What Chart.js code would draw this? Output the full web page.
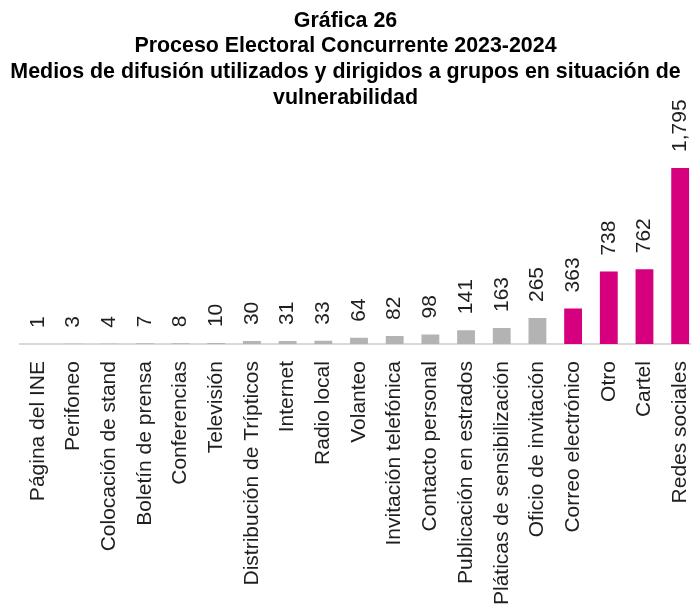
<!DOCTYPE html>
<html>
<head>
<meta charset="utf-8">
<script src="https://cdn.jsdelivr.net/npm/chart.js@4"></script>
<style>
  html, body { margin: 0; padding: 0; background: #fff; overflow: hidden; }
  /* un poco mas ancho que la ventana: la ultima barra queda pegada al borde */
  #wrap { width: 698px; height: 604px; }
</style>
</head>
<body>
<div id="wrap"><canvas id="medios-chart"></canvas></div>
<script>
// Medios de difusion - datos
var categorias = ["Página del INE", "Perifoneo", "Colocación de stand", "Boletín de prensa", "Conferencias",
                  "Televisión", "Distribución de Trípticos", "Internet", "Radio local", "Volanteo",
                  "Invitación telefónica", "Contacto personal", "Publicación en estrados",
                  "Pláticas de sensibilización", "Oficio de invitación", "Correo electrónico",
                  "Otro", "Cartel", "Redes sociales"];
var valores = [1, 3, 4, 7, 8, 10, 30, 31, 33, 64, 82, 98, 141, 163, 265, 363, 738, 762, 1795];
var destacados = [15, 16, 17, 18]; // barras en magenta

var tituloLineas = ["Gráfica 26",
                    "Proceso Electoral Concurrente 2023-2024",
                    "Medios de difusión utilizados y dirigidos a grupos en situación de",
                    "vulnerabilidad"];

var gris = '#b3b3b3';
var magenta = '#d6007f';
var colores = valores.map(function(v, i){
    return destacados.indexOf(i) >= 0 ? magenta : gris;
});

// etiquetas de valor giradas sobre cada barra
var etiquetasValor = {
    id: 'etiquetasValor',
    afterDatasetsDraw: function(chart){
        var ctx = chart.ctx;
        var meta = chart.getDatasetMeta(0);
        ctx.save();
        ctx.font = '21px "Liberation Sans", Arial, sans-serif';
        ctx.fillStyle = '#1f1f1f';
        ctx.textAlign = 'left';
        ctx.textBaseline = 'middle';
        meta.data.forEach(function(bar, i){
            ctx.save();
            ctx.translate(bar.x, bar.y - 16);
            ctx.rotate(-Math.PI / 2);
            ctx.fillText(valores[i].toLocaleString('en-US'), 0, 0);
            ctx.restore();
        });
        ctx.restore();
    }
};

var ctx = document.getElementById('medios-chart');

var chartOptions = {
    responsive: true,
    maintainAspectRatio: false,
    animation: false,
    // left negativo para centrar el titulo en la parte visible (691px)
    layout: { padding: { left: -7, right: 0, bottom: -10 } },
    plugins: {
        legend: { display: false },
        tooltip: { enabled: false },
        title: {
            display: true,
            text: tituloLineas,
            color: '#000',
            font: { family: '"Liberation Sans", Arial, sans-serif', size: 21.4, weight: 'bold', lineHeight: 1.2 },
            padding: { top: 8, bottom: 20 }
        }
    },
    scales: {
        x: {
            grid: { display: false },
            border: { display: true, color: '#d9d9d9', width: 2 },
            ticks: {
                autoSkip: false,
                minRotation: 90,
                maxRotation: 90,
                padding: 9,
                color: '#1f1f1f',
                font: { family: '"Liberation Sans", Arial, sans-serif', size: 21 }
            },
            afterFit: function(scale){
                scale.paddingLeft = 0;
                scale.paddingRight = 0;
            }
        },
        y: {
            display: true,
            min: 0,
            max: 2174,
            grid: { display: false },
            border: { display: false },
            ticks: { display: false },
            afterFit: function(scale){
                scale.width = 27; // espacio vacio a la izquierda
            }
        }
    }
};

var chartData = {
    labels: categorias,
    datasets: [{
        data: valores,
        backgroundColor: colores,
        categoryPercentage: 1,
        barPercentage: 0.5
    }]
};

var mediosChart = new Chart(ctx, {
    type: 'bar',
    data: chartData,
    options: chartOptions,
    plugins: [etiquetasValor]
});
</script>
</body>
</html>
